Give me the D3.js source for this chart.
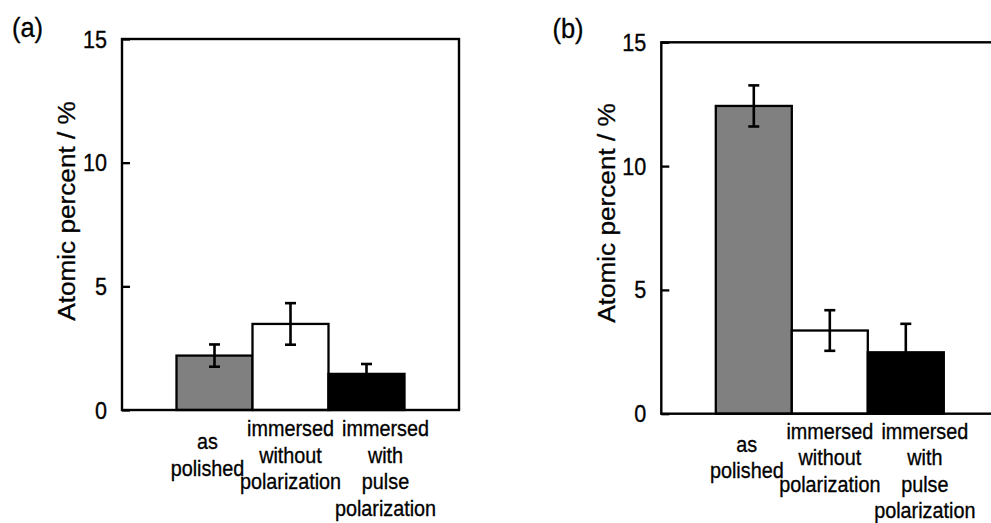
<!DOCTYPE html>
<html>
<head>
<meta charset="utf-8">
<script src="https://cdn.jsdelivr.net/npm/d3@7/dist/d3.min.js"></script>
<style>
  html, body { margin: 0; padding: 0; background: #fff; }
  svg { display: block; }
  text { font-family: "Liberation Sans", Arial, sans-serif; fill: #000; stroke: #000; stroke-width: 0.3px; }
</style>
</head>
<body>
<svg id="chart" width="991" height="523"></svg>
<script>
// ---- data ----
const categories = ["as polished", "immersed without polarization", "immersed with pulse polarization"];
const categoryLines = [["as", "polished"], ["immersed", "without", "polarization"], ["immersed", "with", "pulse", "polarization"]];
const barColors = ["#808080", "#ffffff", "#000000"];
const valuesA = [2.2, 3.48, 1.46];
const errorsA = [0.45, 0.84, 0.4];
const valuesB = [12.43, 3.36, 2.48];
const errorsB = [0.83, 0.82, 1.15];
const yTicks = [0, 5, 10, 15];
const panelLabels = ["(a)", "(b)"];
const yTitle = "Atomic percent / %";

// ---- layout ----
const VS = 1.1; // vertical stretch of the text in the reference
const labelShift = [-7, 0, 19];
const panels = [
  { label: panelLabels[0], values: valuesA, errors: errorsA, left: 122, top: 39, width: 337, bottom: 410,
    labelX: 27.5, labelY: 37, titleX: 66, titleY: 211, firstLine: 26 },
  { label: panelLabels[1], values: valuesB, errors: errorsB, left: 661.3, top: 42.3, width: 337, bottom: 413.7,
    labelX: 568, labelY: 37.5, titleX: 606, titleY: 213, firstLine: 25 }
];

const svg = d3.select("#chart");

function stretchedText(g, x, y, txt, size, anchor, rotate) {
  return g.append("text")
    .attr("transform", `translate(${x},${y}) scale(1,${VS})` + (rotate ? ` rotate(${rotate})` : ""))
    .attr("text-anchor", anchor)
    .style("font-size", size + "px")
    .text(txt);
}

panels.forEach(p => {
  const g = svg.append("g");
  const right = p.left + p.width;
  const y = d3.scaleLinear().domain([0, 15]).range([p.bottom, p.top]);
  const x = d3.scaleBand().domain(categories).range([p.left + 54.5, right - 54.5]).padding(0);

  // bars
  g.selectAll("rect.bar").data(p.values).enter().append("rect")
    .attr("class", "bar")
    .attr("x", (d, i) => x(categories[i]))
    .attr("y", d => y(d))
    .attr("width", x.bandwidth())
    .attr("height", d => y(0) - y(d))
    .attr("fill", (d, i) => barColors[i])
    .attr("stroke", "#000")
    .attr("stroke-width", 2.3);

  // error bars
  p.values.forEach((v, i) => {
    const cx = x(categories[i]) + x.bandwidth() / 2;
    const e = p.errors[i];
    const eg = g.append("g").attr("stroke", "#000").attr("stroke-width", 2.6);
    eg.append("line").attr("x1", cx).attr("x2", cx).attr("y1", y(v - e)).attr("y2", y(v + e));
    eg.append("line").attr("x1", cx - 5.5).attr("x2", cx + 5.5).attr("y1", y(v + e)).attr("y2", y(v + e));
    eg.append("line").attr("x1", cx - 5.5).attr("x2", cx + 5.5).attr("y1", y(v - e)).attr("y2", y(v - e));
  });

  // frame
  g.append("rect")
    .attr("x", p.left).attr("y", p.top)
    .attr("width", p.width).attr("height", p.bottom - p.top)
    .attr("fill", "none").attr("stroke", "#000").attr("stroke-width", 2.4);

  // y axis (inward ticks)
  const axis = d3.axisRight(y).tickValues(yTicks).tickSize(8).tickFormat("");
  const ag = g.append("g").attr("transform", `translate(${p.left},0)`).call(axis);
  ag.select(".domain").remove();
  ag.selectAll(".tick line").attr("stroke", "#000").attr("stroke-width", 2.3);

  // tick labels
  yTicks.forEach(t => {
    stretchedText(g, p.left - 15, y(t) + 8.5, String(t), 21.6, "end");
  });

  // y title
  stretchedText(g, p.titleX + 8.5, p.titleY, yTitle, 23.8, "middle", -90);

  // category labels
  const lh = 26.5;
  const midBase = p.bottom + p.firstLine + lh;
  categoryLines.forEach((lines, i) => {
    const cx = x(categories[i]) + x.bandwidth() / 2 + labelShift[i];
    let first = midBase - (lines.length - 1) / 2 * lh;
    first = Math.max(first, p.bottom + p.firstLine);
    lines.forEach((ln, j) => {
      stretchedText(g, cx, first + j * lh, ln, 19.8, "middle");
    });
  });

  // panel label
  stretchedText(g, p.labelX, p.labelY, p.label, 25.5, "middle");
});
</script>
</body>
</html>
